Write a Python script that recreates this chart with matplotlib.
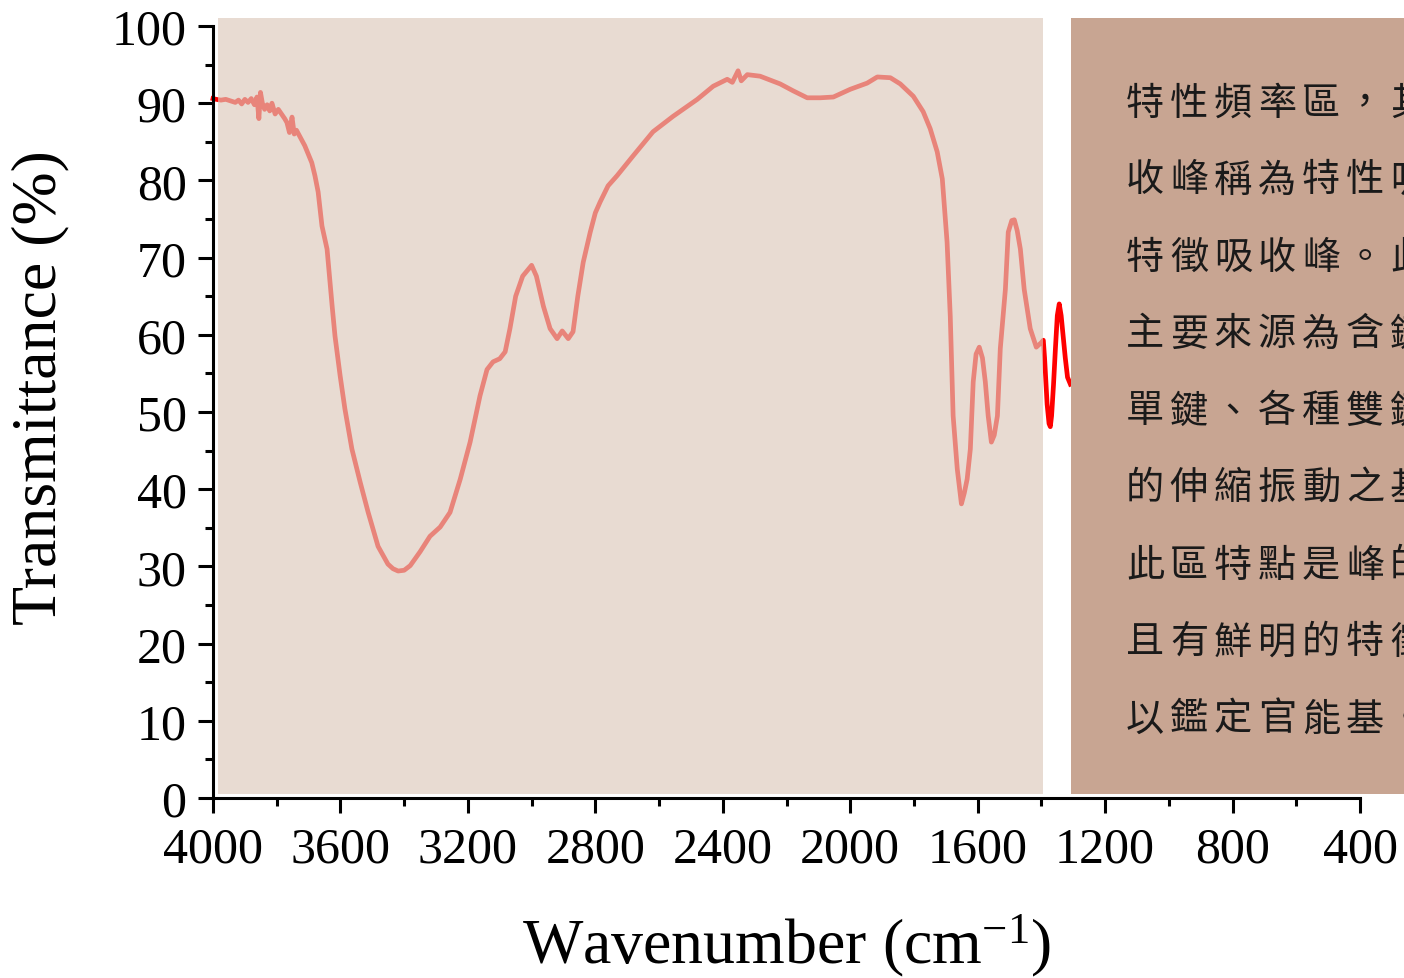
import matplotlib
matplotlib.use("Agg")
import matplotlib.pyplot as plt
from matplotlib.patches import Rectangle

plt.rcParams['font.family'] = ['Liberation Serif', 'DejaVu Serif']
plt.rcParams['mathtext.fontset'] = 'custom'
plt.rcParams['mathtext.rm'] = 'Liberation Serif'
plt.rcParams['mathtext.it'] = 'Liberation Serif:italic'

# 파수 (cm-1), 투과율 (%) - 그림에서 읽은 값
wavenumber = [4000, 3990, 3975, 3960, 3945, 3930, 3920, 3910, 3900, 3890,
              3880, 3870, 3862, 3856, 3851, 3845, 3838, 3830, 3822, 3815,
              3805, 3795, 3785, 3775, 3768, 3760, 3752, 3745, 3738, 3725,
              3712, 3702, 3690, 3680, 3670, 3658, 3642, 3626, 3617, 3601,
              3586, 3564, 3538, 3513, 3482, 3451, 3435, 3419, 3400, 3381,
              3350, 3319, 3287, 3256, 3224, 3193, 3162, 3140, 3121, 3100,
              3083, 3068, 3050, 3028, 3000, 2985, 2963, 2942, 2920, 2904,
              2885, 2870, 2855, 2838, 2816, 2800, 2785, 2760, 2732, 2681,
              2619, 2556, 2480, 2430, 2386, 2370, 2352, 2342, 2323, 2283,
              2220, 2179, 2135, 2094, 2053, 2000, 1947, 1915, 1874, 1843,
              1802, 1771, 1749, 1727, 1711, 1696, 1686, 1677, 1664, 1651,
              1642, 1633, 1623, 1614, 1605, 1595, 1585, 1576, 1567, 1557,
              1548, 1538, 1529, 1513, 1504, 1493, 1485, 1476, 1466, 1454,
              1435, 1416, 1400, 1394, 1390, 1382, 1376, 1372, 1368, 1362,
              1356, 1350, 1344, 1338, 1332, 1325, 1318, 1309]
transmittance = [90.6, 90.5, 90.4, 90.5, 90.3, 90.1, 90.4, 89.9, 90.5, 90.1,
                 90.6, 89.8, 90.8, 88.0, 91.4, 90.0, 89.2, 89.8, 89.0, 90.0,
                 88.6, 89.2, 88.6, 88.0, 87.5, 86.2, 88.2, 86.0, 86.5, 85.5,
                 84.5, 83.5, 82.3, 80.6, 78.5, 74.1, 71.1, 63.7, 59.8, 54.7,
                 50.4, 45.2, 40.9, 37.0, 32.6, 30.3, 29.7, 29.4, 29.5, 30.1,
                 31.9, 33.9, 35.1, 37.0, 41.3, 46.1, 52.1, 55.5, 56.5, 56.9,
                 57.8, 60.8, 65.0, 67.6, 69.0, 67.6, 63.7, 60.8, 59.5, 60.5,
                 59.5, 60.4, 65.0, 69.4, 73.3, 75.8, 77.2, 79.3, 80.6, 83.2,
                 86.3, 88.3, 90.5, 92.2, 93.1, 92.7, 94.2, 92.9, 93.7, 93.5,
                 92.5, 91.6, 90.7, 90.7, 90.8, 91.8, 92.6, 93.4, 93.3, 92.5,
                 90.9, 88.9, 86.7, 83.7, 80.2, 72.0, 62.4, 49.5, 42.6, 38.1,
                 39.5, 41.3, 45.2, 53.9, 57.5, 58.4, 57.0, 53.9, 49.5, 46.1,
                 47.0, 49.5, 58.2, 65.9, 73.3, 74.8, 74.9, 73.5, 71.1, 65.9,
                 60.8, 58.4, 59.0, 59.3, 57.0, 51.0, 48.5, 48.1, 49.5, 53.5,
                 58.2, 62.5, 64.0, 62.5, 60.0, 57.0, 54.5, 53.6]

# 영역 구분 (cm-1)
light_band = (3984, 1394)
dark_band = (1306, 200)

# 설명 문장 (줄 단위)
note_lines = ['特性頻率區，其',
              '收峰稱為特性吸',
              '特徵吸收峰。此',
              '主要來源為含鍵',
              '單鍵、各種雙鍵',
              '的伸縮振動之基',
              '此區特點是峰的',
              '且有鮮明的特徵',
              '以鑑定官能基。']

W, H = 1404, 979
fig = plt.figure(figsize=(W / 100, H / 100), dpi=100)
ax = fig.add_axes([213 / W, 1 - 799 / H, (1360 - 213) / W, (799 - 27) / H])

# 스펙트럼
ax.plot(wavenumber, transmittance, color='#ff0000', lw=3.4, zorder=2,
        solid_joinstyle='round', clip_on=False)

# 반투명 / 불투명 영역
ax.add_patch(Rectangle((light_band[0], 0.5), light_band[1] - light_band[0], 100.6,
                       facecolor='#dcc9bb', edgecolor='none', alpha=0.66,
                       zorder=3, clip_on=False))
ax.add_patch(Rectangle((dark_band[0], 0.5), dark_band[1] - dark_band[0], 100.6,
                       facecolor='#c8a592', edgecolor='none',
                       zorder=3, clip_on=False))

ax.set_xlim(4000, 400)
ax.set_ylim(0, 100)
ax.set_xticks(range(4000, 399, -400))
ax.set_xticks(range(3800, 400, -400), minor=True)
ax.set_yticks(range(0, 101, 10))
ax.set_yticks(range(5, 100, 10), minor=True)

for s in ['top', 'right']:
    ax.spines[s].set_visible(False)
for s in ['left', 'bottom']:
    ax.spines[s].set_linewidth(2.2)
    ax.spines[s].set_zorder(5)

ax.tick_params(axis='both', which='major', direction='out', length=11, width=2.2,
               labelsize=36)
ax.tick_params(axis='both', which='minor', direction='out', length=5.5, width=2.2)
ax.tick_params(axis='x', which='major', pad=9)
ax.tick_params(axis='y', which='major', pad=8)
ax.patch.set_visible(False)

fig.text(40 / W, 1 - 388 / H, 'Transmittance (%)', rotation=90, ha='center',
         va='center', fontsize=46)
fig.text(787 / W, 1 - 946 / H, r'Wavenumber (cm$^{\mathrm{-1}}$)', ha='center',
         va='center', fontsize=46)

# 글자 하나씩 배치
for i, line in enumerate(note_lines):
    y = 1 - (104 + i * 77) / H
    for j, ch in enumerate(line):
        t = fig.text((1145 + j * 44) / W, y, ch, ha='center', va='center',
                     fontsize=27.5, color='#1a1a1a',
                     family=['Noto Sans CJK TC', 'DejaVu Sans'], zorder=6)
        t.set_clip_on(True)
        t.set_clip_box(fig.bbox)

fig.savefig('out.png', dpi=100)
